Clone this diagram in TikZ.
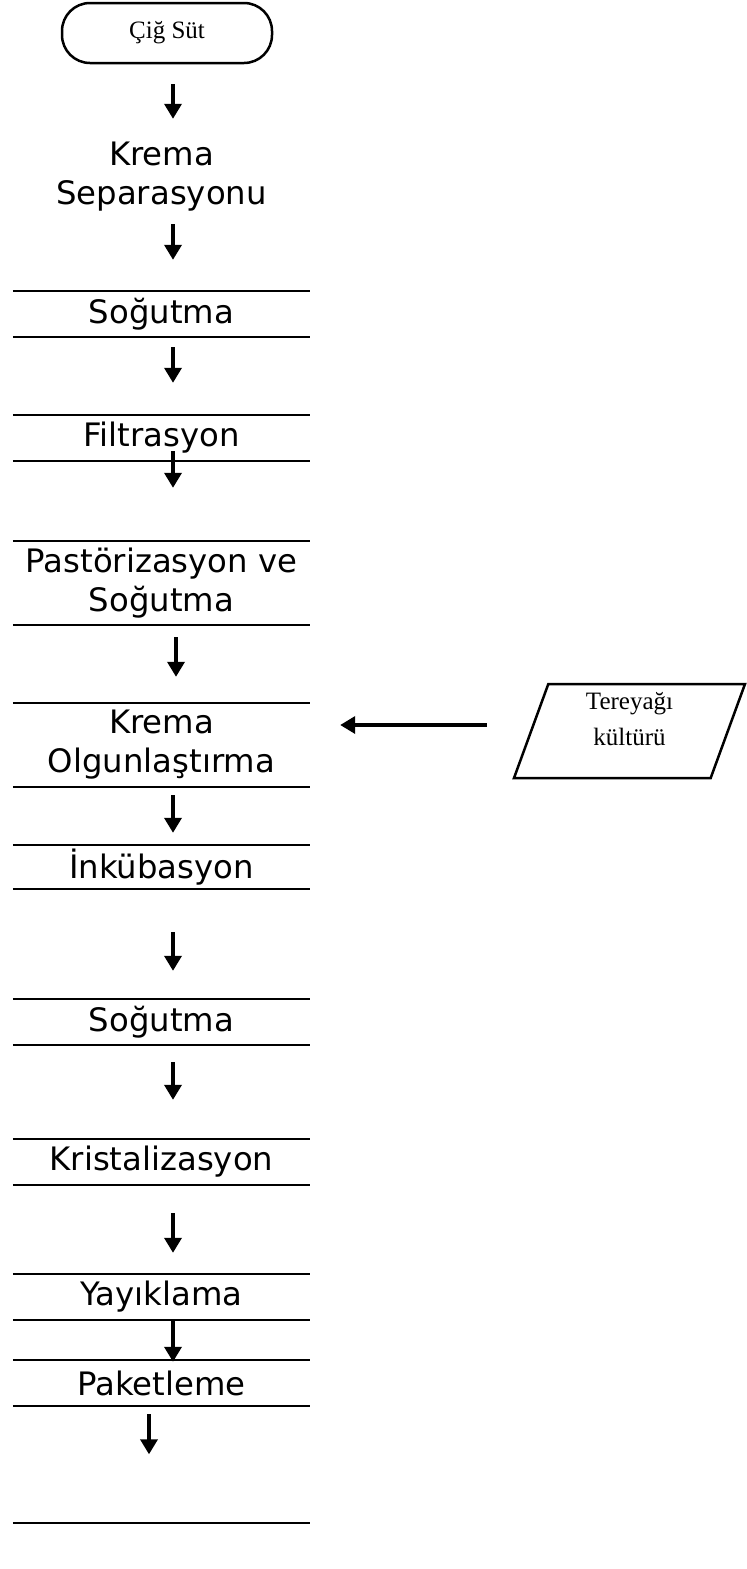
\documentclass[tikz,border=0pt]{standalone}
\usepackage{fontspec}
\newfontfamily\stepfont{DejaVu Sans}
\newfontfamily\termfont{Liberation Serif}
\usetikzlibrary{arrows.meta}
\usetikzlibrary{shapes}

\begin{document}
\begin{tikzpicture}[
		x=1pt, y=-1pt,
		box/.style={minimum width=297pt, inner sep=0pt, align=center, font=\fontsize{32.3}{39}\stepfont},
		term/.style={draw, line width=2.5pt, rounded corners=28pt, minimum width=210pt, minimum height=60pt, font=\fontsize{25}{28}\termfont},
		inp/.style={draw, line width=2.5pt, trapezium, trapezium left angle=66, trapezium right angle=114, trapezium stretches body, minimum width=231pt, minimum height=94pt, inner sep=0pt, text depth=24pt, align=center, font=\fontsize{25}{36}\termfont},
		bar/.style={line width=2.5pt},
		arr/.style={-{Triangle[width=17pt, length=15pt]}, line width=3.5pt},
	]
		\useasboundingbox (0,0) rectangle (747,1569);

		\node[term] (cig) at (167,33) {Çiğ Süt};
		\node[box, minimum height=84pt] (sep) at (161.5,177) {Krema\\Separasyonu};
		\node[box, minimum height=46pt] (sog1) at (161.5,314) {Soğutma};
		\node[box, minimum height=46pt] (filt) at (161.5,438) {Filtrasyon};
		\node[box, minimum height=84pt] (past) at (161.5,583) {Pastörizasyon ve\\Soğutma};
		\node[box, minimum height=84pt] (olg) at (161.5,745) {Krema\\Olgunlaştırma};
		\node[box, minimum height=44pt] (ink) at (161.5,867) {İnkübasyon};
		\node[box, minimum height=46pt] (sog2) at (161.5,1022) {Soğutma};
		\node[box, minimum height=46pt] (krist) at (161.5,1162) {Kristalizasyon};
		\node[box, minimum height=46pt] (yay) at (161.5,1297) {Yayıklama};
		\node[box, minimum height=46pt] (pak) at (161.5,1383) {Paketleme};
		\node[box] (son) at (161.5,1523) {};
		\node[inp] (kult) at (629.5,731) {Tereyağı\\kültürü};

		\coordinate (ax) at (173,0);
		\coordinate (axp) at (176,0);
		\coordinate (axk) at (149,0);

		% upper and lower lines of each step
		\foreach \n in {sog1, filt, past, olg, ink, sog2, krist, yay, pak}
			\draw[bar] (\n.north west) -- (\n.north east) (\n.south west) -- (\n.south east);
		\draw[bar] (son.west) -- (son.east);

		\foreach \p/\q/\c/\sa/\sb in {cig/sep/ax/20/16, sep/sog1/ax/5/31, sog1/filt/ax/10/32, filt/past/ax/-10/53, past/olg/axp/12/26, olg/ink/ax/8/12, ink/sog2/ax/43/28, sog2/krist/ax/17/39, krist/yay/ax/28/21, yay/pak/ax/-1/-2, pak/son/axk/8/68}
			\draw[arr, shorten <=\sa pt, shorten >=\sb pt] (\p.south -| \c) -- (\q.north -| \c);
		\draw[arr, shorten <=43pt, shorten >=30pt] ([yshift=6pt]kult.west) -- ([yshift=6pt]kult.west -| olg.east);
	\end{tikzpicture}
\end{document}
